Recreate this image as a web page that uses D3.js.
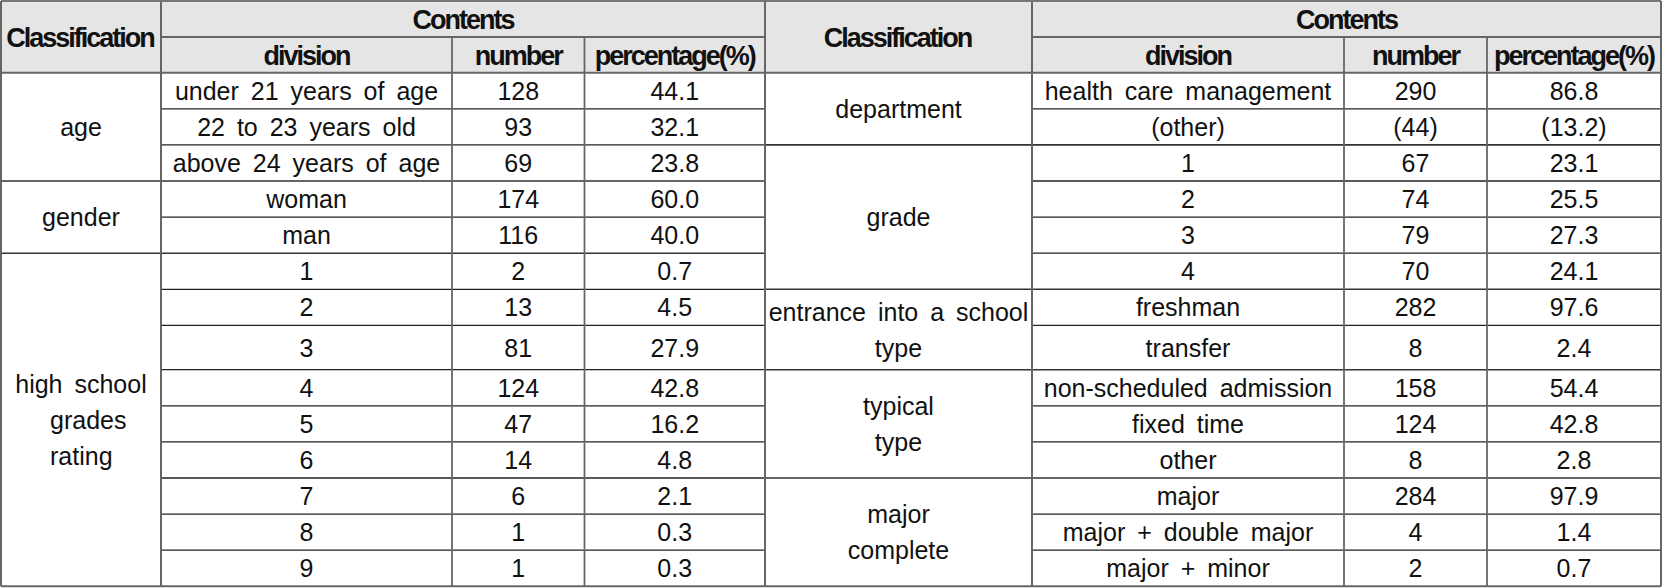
<!DOCTYPE html>
<html>
<head>
<meta charset="utf-8">
<script src="https://cdn.jsdelivr.net/npm/d3@7"></script>
<style>
    body { margin: 0; background: #fff; }
    text { font-family: "Liberation Sans", Arial, sans-serif; fill: #111; }
</style>
</head>
<body>
<div id="table"></div>
<script>
// left half
var leftGroups = [["age", 3], ["gender", 2], ["high school\ngrades\nrating", 9]];
var leftDivision = ["under 21 years of age", "22 to 23 years old", "above 24 years of age",
    "woman", "man", "1", "2", "3", "4", "5", "6", "7", "8", "9"];
var leftNumber = ["128", "93", "69", "174", "116", "2", "13", "81", "124", "47", "14", "6", "1", "1"];
var leftPercent = ["44.1", "32.1", "23.8", "60.0", "40.0", "0.7", "4.5", "27.9", "42.8", "16.2", "4.8", "2.1", "0.3", "0.3"];

// right half
var rightGroups = [["department", 2], ["grade", 4], ["entrance into a school\ntype", 2],
    ["typical\ntype", 3], ["major\ncomplete", 3]];
var rightDivision = ["health care management", "(other)", "1", "2", "3", "4", "freshman", "transfer",
    "non-scheduled admission", "fixed time", "other", "major", "major + double major", "major + minor"];
var rightNumber = ["290", "(44)", "67", "74", "79", "70", "282", "8", "158", "124", "8", "284", "4", "2"];
var rightPercent = ["86.8", "(13.2)", "23.1", "25.5", "27.3", "24.1", "97.6", "2.4", "54.4", "42.8", "2.8", "97.9", "1.4", "0.7"];

var headTop = "Contents";
var headSub = ["division", "number", "percentage(%)"];
var headClass = "Classification";

(function () {
    var width = 1666, height = 588;
    var svg = d3.select("#table").append("svg")
        .attr("width", width).attr("height", height);

    // column edges
    var x = d3.scaleOrdinal()
        .domain(["L0", "L1", "L2", "L3", "L4", "R1", "R2", "R3", "R4"])
        .range([1, 161, 452, 584.5, 765, 1032, 1344, 1487, 1661]);
    var sides = [
        { cols: ["L0", "L1", "L2", "L3", "L4"], groups: leftGroups, data: [leftDivision, leftNumber, leftPercent] },
        { cols: ["L4", "R1", "R2", "R3", "R4"], groups: rightGroups, data: [rightDivision, rightNumber, rightPercent] }
    ];

    var yTop = 1, yMid = 37, yHead = 72.7;
    var rowH = leftDivision.map((d, i) => i == 7 ? 44.3 : 36.1);
    var rowY = [yHead].concat(Array.from(d3.cumsum(rowH), v => v + yHead));
    var yBot = rowY[rowY.length - 1];

    var dataFont = 25, headFont = 27;

    svg.append("rect")
        .attr("x", x("L0")).attr("y", yTop)
        .attr("width", x("R4") - x("L0")).attr("height", yHead - yTop)
        .attr("fill", "#e5e5e5");

    var lines = svg.append("g");
    var line = (x1, y1, x2, y2, c, w) => lines.append("line")
        .attr("x1", x1).attr("y1", y1).attr("x2", x2).attr("y2", y2)
        .attr("stroke", c).attr("stroke-width", w);

    var txt = (s, cx, cy, opt) => {
        opt = opt || {};
        var t = svg.append("text")
            .attr("x", cx).attr("y", cy).attr("dy", "0.36em")
            .attr("text-anchor", opt.anchor || "middle")
            .style("font-size", (opt.size || dataFont) + "px")
            .style("word-spacing", "5px")
            .text(s);
        if (opt.bold) t.style("font-weight", "bold").style("letter-spacing", "-2px");
        return t;
    };

    sides.forEach(side => {
        var c = side.cols.map(k => x(k));

        // header text
        txt(headClass, (c[0] + c[1]) / 2 - 1, (yTop + yHead) / 2, { bold: true, size: headFont });
        txt(headTop, (c[1] + c[4]) / 2, (yTop + yMid) / 2, { bold: true, size: headFont });
        headSub.forEach((h, j) => txt(h, (c[j + 1] + c[j + 2]) / 2, (yMid + yHead) / 2, { bold: true, size: headFont }));

        // cells
        side.data.forEach((col, j) => {
            col.forEach((v, i) => txt(v, (c[j + 1] + c[j + 2]) / 2, (rowY[i] + rowY[i + 1]) / 2));
        });

        // group labels + row lines
        var start = 0;
        var groupEnds = new Set();
        side.groups.forEach(g => {
            var end = start + g[1];
            groupEnds.add(end);
            var parts = g[0].split("\n");
            var cy = (rowY[start] + rowY[end]) / 2;
            parts.forEach((p, k) => {
                var yy = cy + (k - (parts.length - 1) / 2) * 36;
                // 3-line label: wrapped lines sit flush left under the first
                if (parts.length > 2 && k > 0) txt(p, c[0] + 49, yy, { anchor: "start" });
                else txt(p, (c[0] + c[1]) / 2, yy);
            });
            start = end;
        });
        for (var i = 1; i < rowH.length; i++) {
            if (groupEnds.has(i)) line(c[0], rowY[i], c[4], rowY[i], "#333", 1.6);
            else line(c[1], rowY[i], c[4], rowY[i], "#222", 1.3);
        }

        line(c[1], yMid, c[4], yMid, "#666", 1.8);
        line(c[2], yMid, c[2], yBot, "#666", 1.8);
        line(c[3], yMid, c[3], yBot, "#666", 1.8);
        line(c[1], yTop, c[1], yBot, "#666", 2);
    });

    line(x("L0"), yHead, x("R4"), yHead, "#666", 2);
    line(x("L0"), yTop, x("R4"), yTop, "#777", 2);
    line(x("L0"), yBot, x("R4"), yBot, "#666", 2);
    line(x("L0"), yTop, x("L0"), yBot, "#666", 2);
    line(x("L4"), yTop, x("L4"), yBot, "#666", 2);
    line(x("R4"), yTop, x("R4"), yBot, "#666", 2);
}());
</script>
</body>
</html>
